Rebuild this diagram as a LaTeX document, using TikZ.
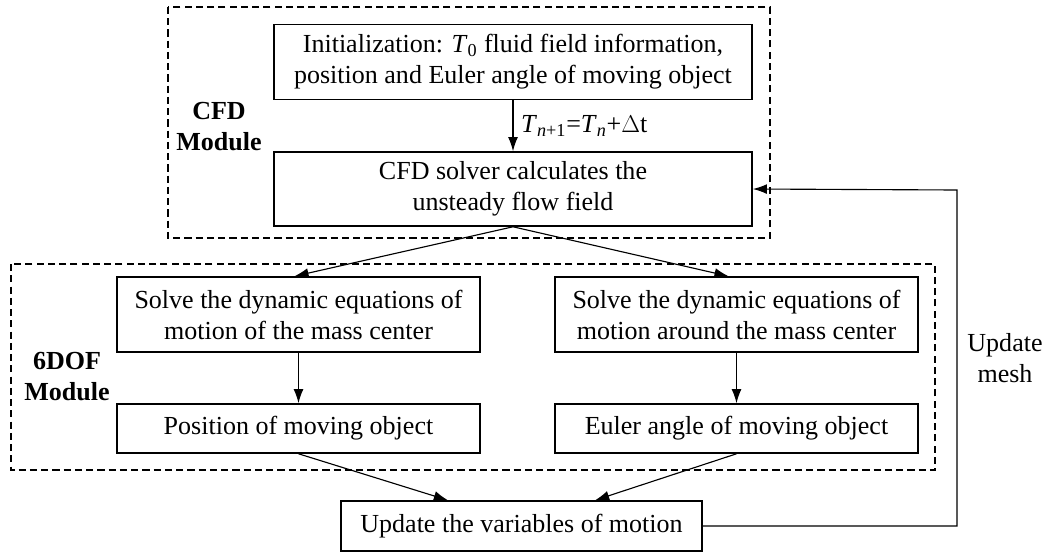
\documentclass[tikz,border=0pt]{standalone}
\usepackage{fontspec}
\setmainfont{Liberation Serif}
\usetikzlibrary{arrows.meta}

\begin{document}
\begin{tikzpicture}[x=0.025cm,y=-0.025cm,
  every node/.style={font=\fontsize{18.5}{22}\selectfont},
  stepbox/.style={draw,line width=1.1pt,align=center,inner sep=0pt},
  modbox/.style={draw,line width=1.1pt,dash pattern=on 5pt off 3pt},
  modlabel/.style={align=center,font=\fontsize{18.5}{22}\selectfont\bfseries},
  flow/.style={line width=0.8pt,-{Latex[length=10pt,width=7pt]}}]
\useasboundingbox (0,0) rectangle (1049,552);
% module frames
\draw[modbox] (168,7) rectangle (770,238);
\draw[modbox] (11,264) rectangle (935,470);
\node[modlabel] (cfdlab) at (219,127) {CFD\\Module};
\node[modlabel] (doflab) at (67,377) {6DOF\\Module};
% steps
\node[stepbox,minimum width=11.95cm,minimum height=1.875cm] (init) at (513,62)
  {Initialization: \textit{T}\textsubscript{0} fluid field information,\\position and Euler angle of moving object};
\node[stepbox,minimum width=11.95cm,minimum height=1.85cm] (cfd) at (513,189)
  {CFD solver calculates the\\unsteady flow field};
\node[stepbox,minimum width=9.075cm,minimum height=1.875cm] (mass) at (298.5,314.5)
  {Solve the dynamic equations of\\motion of the mass center};
\node[stepbox,minimum width=9.075cm,minimum height=1.875cm] (around) at (736.5,314.5)
  {Solve the dynamic equations of\\motion around the mass center};
\node[stepbox,minimum width=9.075cm,minimum height=1.225cm] (pos) at (298.5,428.5)
  {Position of moving object};
\node[stepbox,minimum width=9.075cm,minimum height=1.225cm] (euler) at (736.5,428.5)
  {Euler angle of moving object};
\node[stepbox,minimum width=9.025cm,minimum height=1.25cm] (update) at (521.5,526)
  {Update the variables of motion};
\node[align=center] (mesh) at (1005,358) {Update\\mesh};
% connectors
\draw[flow] (init) -- node[right=2pt] {\textit{T}\textsubscript{\textit{n}+1}=\textit{T}\textsubscript{\textit{n}}+$\Delta$t} (cfd);
\draw[flow] (cfd.south) -- ([xshift=-0.1cm]mass.north);
\draw[flow] (cfd.south) -- ([xshift=-0.2cm]around.north);
\draw[flow] (mass) -- (pos);
\draw[flow] (around) -- (euler);
\draw[flow] (pos.south) -- ([xshift=-1.84cm]update.north);
\draw[flow] (euler.south) -- ([xshift=1.84cm]update.north);
\draw[flow] (update.east) -- (957,526) -- (957,190) -- (cfd.east);
\end{tikzpicture}
\end{document}
